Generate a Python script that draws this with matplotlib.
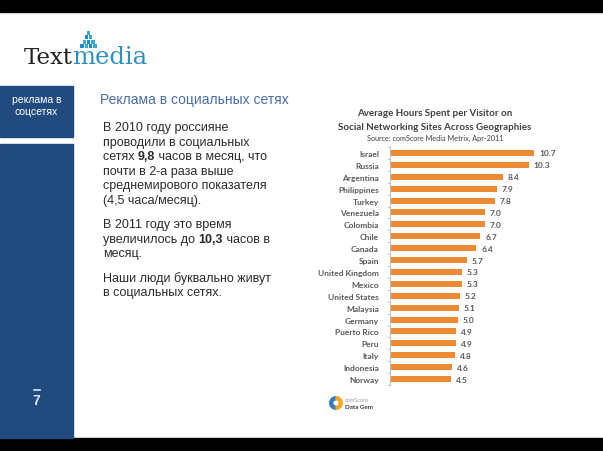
import matplotlib
matplotlib.use("Agg")
import matplotlib.pyplot as plt
from matplotlib.patches import Rectangle, Wedge

# данные графика (comScore, апрель 2011)
countries = ["Israel", "Russia", "Argentina", "Philippines", "Turkey", "Venezuela",
             "Colombia", "Chile", "Canada", "Spain", "United Kingdom", "Mexico",
             "United States", "Malaysia", "Germany", "Puerto Rico", "Peru", "Italy",
             "Indonesia", "Norway"]
hours = [10.7, 10.3, 8.4, 7.9, 7.8, 7.0, 7.0, 6.7, 6.4, 5.7, 5.3, 5.3,
         5.2, 5.1, 5.0, 4.9, 4.9, 4.8, 4.6, 4.5]
value_labels = ["10.7", "10.3", "8.4", "7.9", "7.8", "7.0", "7.0", "6.7", "6.4", "5.7",
                "5.3", "5.3", "5.2", "5.1", "5.0", "4.9", "4.9", "4.8", "4.6", "4.5"]
chart_title = ["Average Hours Spent per Visitor on",
               "Social Networking Sites Across Geographies"]
chart_source = "Source: comScore Media Metrix, Apr-2011"

slide_title = "Реклама в социальных сетях"
side_label = "реклама в\nсоцсетях"
page_num = "7"
# строки текста: (кусок, жирность)
body = [
    [("В 2010 году россияне", "normal")],
    [("проводили в социальных", "normal")],
    [("сетях ", "normal"), ("9,8", "bold"), (" часов в месяц, что", "normal")],
    [("почти в 2-а раза выше", "normal")],
    [("среднемирового показателя", "normal")],
    [("(4,5 часа/месяц).", "normal")],
    None,
    [("В 2011 году это время", "normal")],
    [("увеличилось до ", "normal"), ("10,3", "bold"), (" часов в", "normal")],
    [("месяц.", "normal")],
    None,
    [("Наши люди буквально живут", "normal")],
    [("в социальных сетях.", "normal")],
]

W, H = 603, 452
fig = plt.figure(figsize=(W / 100, H / 100), dpi=100)
fig.patch.set_facecolor("white")
renderer = fig.canvas.get_renderer()

# фоновая ось в пикселях
bg = fig.add_axes([0, 0, 1, 1], zorder=0)
bg.set_xlim(0, W)
bg.set_ylim(H, 0)
bg.axis("off")

blue = "#214b7f"
bg.add_patch(Rectangle((0, 0), W, 13, color="black"))
bg.add_patch(Rectangle((0, 439), W, 13, color="black"))
bg.add_patch(Rectangle((0, 87), 73, 51, color=blue))
bg.add_patch(Rectangle((0, 145), 73, 294, color=blue))

# логотип
t = bg.text(24, 64, "Text", family="DejaVu Serif", fontsize=16.5, color="#222222",
            va="baseline")
xm = 24 + t.get_window_extent(renderer).width - 1
bg.text(xm, 64, "media", family="DejaVu Serif", fontsize=17.5, color="#2e8fc0",
        va="baseline")
sq, gap = 3.6, 0.6
for r, n in enumerate([1, 2, 3, 4]):
    x0 = 88.5 - (n * sq + (n - 1) * gap) / 2
    for k in range(n):
        bg.add_patch(Rectangle((x0 + k * (sq + gap), 32 + r * 4.4), sq, 3.8,
                               color="#1f88c9" if (k + r) % 2 else "#3aa6dc", lw=0))

bg.text(36.5, 106, side_label, ha="center", va="center", color="white",
        fontsize=7.5, family="Liberation Sans", linespacing=1.25)
bg.text(36.5, 401, page_num, ha="center", va="center", color="#d8e6f5",
        fontsize=10, family="Liberation Sans", fontweight="bold")
bg.plot([33.5, 39.5], [391, 391], color="#d8e6f5", lw=1.2)

bg.text(100, 100, slide_title, color="#4a6ca6", fontsize=10,
        family="Liberation Sans", va="center")

y = 128
for line in body:
    if line is None:
        y += 9.5
        continue
    x = 103
    for s, w in line:
        t = bg.text(x, y, s, fontweight=w, color="#2b2b2b", fontsize=9,
                    family="Liberation Sans", va="center")
        x += t.get_window_extent(renderer).width
    y += 14.6

# логотип comScore
cx, cy, rad = 336, 404, 6.3
bg.add_patch(Wedge((cx, cy), rad, 90, 270, width=3, color="#2f7fc1"))
bg.add_patch(Wedge((cx, cy), rad, 270, 90, width=3, color="#f5a623"))
bg.text(345, 400.5, "comScore", fontsize=4, color="#9a9a9a", va="center", family="Lato")
bg.text(345, 407.5, "Data Gem", fontsize=4.5, color="#3a3a3a", va="center",
        family="Lato", fontweight="bold")

# заголовок графика
bg.text(435, 114, chart_title[0], ha="center", va="center", fontsize=7,
        family="Lato", fontweight="bold", color="#404040")
bg.text(435, 127.5, chart_title[1], ha="center", va="center", fontsize=7,
        family="Lato", fontweight="bold", color="#404040")
bg.text(435, 138, chart_source, ha="center", va="center", fontsize=5.2,
        family="Lato", color="#404040")

# сам график
ax = fig.add_axes([390 / W, 1 - 386 / H, 162 / W, 238 / H], zorder=1)
ax.patch.set_alpha(0)
pos = list(range(len(countries)))
ax.barh(pos, hours, height=0.5, color="#ef8a34")
ax.set_ylim(len(countries) - 0.5, -0.5)
ax.set_xlim(0, 12)
ax.set_yticks(pos)
ax.set_yticklabels(countries, fontsize=6, family="Lato", fontweight="bold", color="#595959")
ax.set_yticks([p + 0.5 for p in [-1] + pos], minor=True)
ax.tick_params(axis="y", which="major", length=0, pad=8)
ax.tick_params(axis="y", which="minor", length=2.5, color="#bfbfbf", width=0.6)
ax.set_xticks([])
for s in ["top", "right", "bottom"]:
    ax.spines[s].set_visible(False)
ax.spines["left"].set_color("#bfbfbf")
ax.spines["left"].set_linewidth(0.8)
for p, v, lab in zip(pos, hours, value_labels):
    ax.text(v + 0.35, p, lab, va="center", ha="left", fontsize=6, family="Lato",
            fontweight="bold", color="#595959")

fig.savefig("out.png", dpi=100)
